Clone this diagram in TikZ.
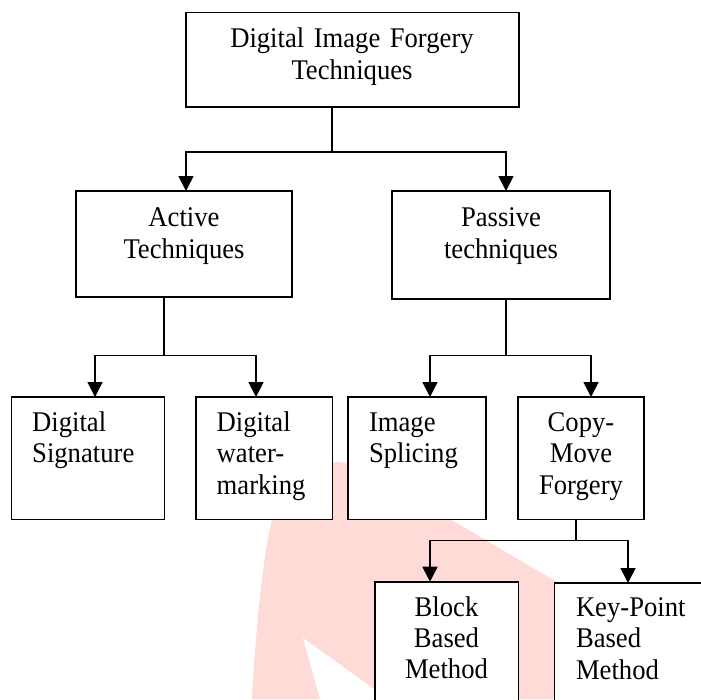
\documentclass[tikz,border=0pt]{standalone}
\usepackage{fontspec}
\setmainfont{Liberation Serif}[FakeStretch=0.935]
\usetikzlibrary{arrows.meta}
\definecolor{wmpink}{RGB}{254,219,215}
\tikzset{
  box/.style={draw, line width=1.6pt, fill=white, inner sep=0pt, outer sep=0pt, anchor=north west},
  lbl/.style={inner sep=0pt, outer sep=0pt, font=\fontsize{28.5}{31.4}\selectfont},
  clbl/.style={lbl, text width=210pt, align=center, anchor=base},
  llbl/.style={lbl, text width=150pt, align=left, anchor=base west},
  stem/.style={line width=1.3pt},
  arr/.style={line width=1.8pt, -{Triangle[width=15pt,length=15pt]}}
}
\begin{document}
\begin{tikzpicture}[x=1pt,y=-1pt]
\useasboundingbox (0,0) rectangle (701,699);
\clip (0,0) rectangle (701,699);
% faded watermark
\fill[wmpink] (252,699) .. controls (255,640) and (262,560) .. (272,520)
  .. controls (282,480) and (305,463) .. (340,462)
  -- (360,466) -- (701,667) -- (701,699) -- cycle;
\fill[white] (303,638) -- (320,699) -- (388,699) -- cycle;
% boxes
\node[box, minimum width=333pt, minimum height=94.4pt] (top) at (186,12.3) {};
\node[box, minimum width=216pt, minimum height=106pt] (active) at (76,191) {};
\node[box, minimum width=218pt, minimum height=108pt] (passive) at (392,191) {};
\node[box, minimum width=153pt, minimum height=122.5pt] (sig) at (11.6,397) {};
\node[box, minimum width=136.3pt, minimum height=122.5pt] (wm) at (196,397) {};
\node[box, minimum width=138pt, minimum height=122.5pt] (spl) at (348,397) {};
\node[box, minimum width=126pt, minimum height=122.5pt] (cmf) at (518,397) {};
\node[box, minimum width=143.3pt, minimum height=140pt] (block) at (375,581.7) {};
\node[box, minimum width=160pt, minimum height=140pt] (kp) at (554.3,583) {};
% texts
\node[clbl, text width=320pt] (tTop) at (352,47.7) {Digital Image Forgery\\Techniques};
\node[clbl] (tActive) at (184,226.7) {Active\\Techniques};
\node[clbl] (tPassive) at (501,226.7) {Passive\\techniques};
\node[llbl] (tSig) at (32.2,431.5) {Digital\\Signature};
\node[llbl] (tWm) at (216.7,431.5) {Digital\\water-\\marking};
\node[llbl] (tSpl) at (369,431.5) {Image\\Splicing};
\node[clbl] (tCmf) at (581,431.5) {Copy-\\Move\\Forgery};
\node[clbl] (tBlock) at (446.5,616) {Block\\Based\\Method};
\node[llbl] (tKp) at (576,616.5) {Key-Point\\Based\\Method};
% connectors
\coordinate (j1) at (332,152.3);
\draw[stem] (j1 |- top.south) -- (j1);
\draw[arr] (j1) -| ([xshift=110pt]active.north west);
\draw[arr] (j1) -| ([xshift=114pt]passive.north west);
\coordinate (j2) at (164,355.5);
\draw[stem] (j2 |- active.south) -- (j2);
\draw[arr] (j2) -| ([xshift=83.4pt]sig.north west);
\draw[arr] (j2) -| ([xshift=60pt]wm.north west);
\coordinate (j3) at (506,355.5);
\draw[stem] (j3 |- passive.south) -- (j3);
\draw[arr] (j3) -| ([xshift=82pt]spl.north west);
\draw[arr] (j3) -| ([xshift=73pt]cmf.north west);
\coordinate (j4) at (576,540.5);
\draw[stem] (j4 |- cmf.south) -- (j4);
\draw[arr] (j4) -| ([xshift=55pt]block.north west);
\draw[arr] (j4) -| ([xshift=73.7pt]kp.north west);
\end{tikzpicture}
\end{document}
